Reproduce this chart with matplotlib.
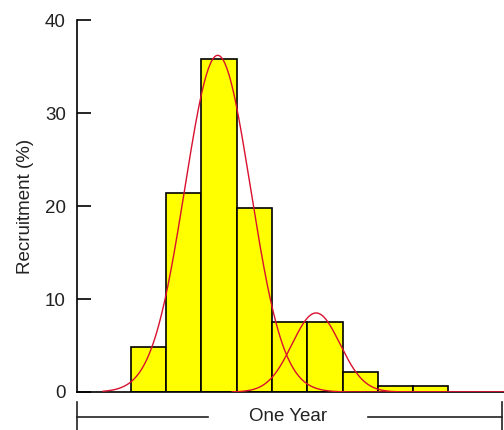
import numpy as np
import matplotlib
matplotlib.use("Agg")
import matplotlib.pyplot as plt
import matplotlib.transforms as mtransforms

plt.rcParams['font.family'] = ['Liberation Sans', 'DejaVu Sans']

# histogramme mensuel (mois depuis le debut de l'annee)
bin_left = [1.53, 2.53, 3.53, 4.53, 5.53, 6.53, 7.53, 8.53, 9.53]
recruit = [4.8, 21.4, 35.8, 19.8, 7.5, 7.5, 2.2, 0.6, 0.6]

# composantes normales ajustees (moyenne, ecart-type, pic)
comp_mean = [3.99, 6.78]
comp_sd = [0.93, 0.68]
comp_peak = [36.2, 8.5]
comp_start = [0.74, 4.4]

fig = plt.figure(figsize=(5.04, 4.30), dpi=100)
ax = fig.add_axes([77/504, 38/430, 427/504, 372/430])

ax.bar(bin_left, recruit, width=1.0, align='edge', color='#ffff00',
       edgecolor='black', linewidth=1.2, zorder=2)

for m, s, p, x0 in zip(comp_mean, comp_sd, comp_peak, comp_start):
    xx = np.linspace(x0, 12.2, 400)
    yy = p*np.exp(-0.5*((xx-m)/s)**2)
    ax.plot(xx, yy, color='#d8102e', lw=1.0, zorder=3)

ax.set_xlim(0, 12.11)
ax.set_ylim(0, 40)
ax.set_yticks([0, 10, 20, 30, 40])
ax.set_xticks([])
for sp in ['top', 'right']:
    ax.spines[sp].set_visible(False)
ax.spines['left'].set_linewidth(1.2)
ax.spines['bottom'].set_linewidth(1.2)
ax.tick_params(axis='y', direction='in', length=10, width=1.2, pad=8,
               labelsize=13.5, labelcolor='#222222')
ax.set_ylabel('Recruitment (%)', fontsize=13.5, color='#222222', labelpad=8)

# "One Year" sous l'axe
tr = mtransforms.blended_transform_factory(ax.transData, ax.transAxes)
yl = -0.067
ax.plot([0, 3.72], [yl, yl], color='#222222', lw=1.2, transform=tr, clip_on=False)
ax.plot([8.25, 12.05], [yl, yl], color='#222222', lw=1.2, transform=tr, clip_on=False)
ax.plot([0, 0], [-0.026, -0.105], color='#222222', lw=1.2, transform=tr, clip_on=False)
ax.plot([12.05, 12.05], [-0.026, -0.105], color='#222222', lw=1.2, transform=tr, clip_on=False)
ax.text(6.0, yl, 'One Year', transform=tr, ha='center', va='center',
        fontsize=13.5, color='#222222')

fig.savefig('out.png', dpi=100)
